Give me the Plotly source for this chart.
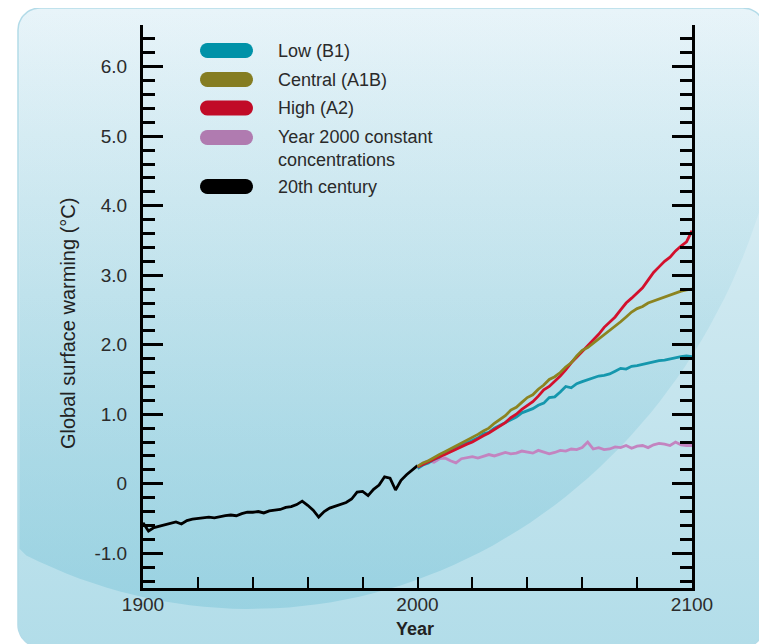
import numpy as np
import plotly.graph_objects as go

W, H = 767, 644
OFF = 8  # default page (body) margin of the html page, compensated so pixels line up

# ---------------- data ----------------
hist_years = list(range(1900, 2001, 2))
hist_20th_century = [
    -0.56, -0.68, -0.63, -0.61, -0.59, -0.57, -0.55, -0.58, -0.53, -0.51,
    -0.50, -0.49, -0.48, -0.49, -0.47, -0.46, -0.45, -0.46, -0.43, -0.41,
    -0.41, -0.40, -0.42, -0.39, -0.38, -0.37, -0.34, -0.33, -0.30, -0.25,
    -0.31, -0.38, -0.48, -0.40, -0.35, -0.32, -0.30, -0.27, -0.22, -0.12,
    -0.11, -0.17, -0.08, -0.02, 0.10, 0.08, -0.09, 0.05, 0.13, 0.20, 0.26,
]

proj_years = list(range(2000, 2101, 2))
low_b1 = [
    0.22, 0.27, 0.30, 0.35, 0.38, 0.45, 0.47, 0.52, 0.55, 0.59,
    0.62, 0.66, 0.72, 0.74, 0.80, 0.84, 0.88, 0.93, 0.96, 1.02,
    1.05, 1.08, 1.13, 1.16, 1.24, 1.25, 1.32, 1.40, 1.38, 1.44,
    1.47, 1.50, 1.53, 1.55, 1.56, 1.58, 1.62, 1.66, 1.65, 1.69,
    1.70, 1.72, 1.73, 1.75, 1.77, 1.78, 1.80, 1.82, 1.83, 1.84, 1.83,
]
central_a1b = [
    0.25, 0.30, 0.33, 0.38, 0.42, 0.46, 0.50, 0.54, 0.58, 0.62,
    0.66, 0.71, 0.76, 0.80, 0.87, 0.92, 0.98, 1.06, 1.10, 1.17,
    1.24, 1.28, 1.36, 1.42, 1.50, 1.54, 1.60, 1.68, 1.74, 1.84,
    1.92, 1.96, 2.02, 2.09, 2.14, 2.20, 2.26, 2.33, 2.40, 2.47,
    2.52, 2.55, 2.60, 2.63, 2.66, 2.69, 2.71, 2.74, 2.77, 2.79, 2.80,
]
high_a2 = [
    0.24, 0.28, 0.31, 0.36, 0.39, 0.42, 0.46, 0.50, 0.53, 0.57,
    0.60, 0.65, 0.69, 0.73, 0.78, 0.82, 0.88, 0.95, 1.00, 1.07,
    1.12, 1.18, 1.26, 1.35, 1.40, 1.47, 1.55, 1.64, 1.74, 1.82,
    1.90, 1.99, 2.06, 2.15, 2.25, 2.32, 2.40, 2.50, 2.60, 2.67,
    2.74, 2.82, 2.93, 3.04, 3.12, 3.20, 3.26, 3.35, 3.42, 3.48, 3.64,
]
constant_2000 = [
    0.25, 0.30, 0.33, 0.31, 0.36, 0.37, 0.33, 0.30, 0.36, 0.38,
    0.39, 0.37, 0.40, 0.42, 0.40, 0.42, 0.45, 0.43, 0.44, 0.47,
    0.46, 0.44, 0.48, 0.45, 0.43, 0.45, 0.48, 0.47, 0.50, 0.49,
    0.52, 0.60, 0.50, 0.52, 0.49, 0.50, 0.53, 0.52, 0.55, 0.51,
    0.54, 0.55, 0.52, 0.56, 0.58, 0.57, 0.55, 0.60, 0.56, 0.55, 0.55,
]

x_tickvals = [1900, 2000, 2100]
x_ticktext = ["1900", "2000", "2100"]
x_minor_ticks = [1920, 1940, 1960, 1980, 2020, 2040, 2060, 2080]
y_tickvals = [-1, 0, 1, 2, 3, 4, 5, 6]
y_ticktext = ["-1.0", "0", "1.0", "2.0", "3.0", "4.0", "5.0", "6.0"]

legend_labels = ["Low (B1)", "Central (A1B)", "High (A2)",
                 "Year 2000 constant<br>concentrations", "20th century"]
legend_colors = ["#0092a8", "#857d22", "#c10b27", "#b07bb0", "#000000"]

# ---------------- helpers for decoration ----------------
def rounded_rect(x0, y0, x1, y1, r, n=14):
    xs, ys = [], []
    corners = [((x0 + r, y0 + r), np.pi, 1.5 * np.pi),
               ((x1 - r, y0 + r), 1.5 * np.pi, 2 * np.pi),
               ((x1 - r, y1 - r), 0.0, 0.5 * np.pi),
               ((x0 + r, y1 - r), 0.5 * np.pi, np.pi)]
    for (cx, cy), a0, a1 in corners:
        a = np.linspace(a0, a1, n)
        xs.extend(cx + r * np.cos(a))
        ys.extend(cy + r * np.sin(a))
    xs.append(xs[0]); ys.append(ys[0])
    return xs, ys


def stadium_path(x0, x1, yc, h, n=12):
    r = h / 2.0
    pts = []
    for a in np.linspace(-np.pi / 2, np.pi / 2, n):
        pts.append((x1 - r + r * np.cos(a), yc + r * np.sin(a)))
    for a in np.linspace(np.pi / 2, 1.5 * np.pi, n):
        pts.append((x0 + r + r * np.cos(a), yc + r * np.sin(a)))
    return "M " + " L ".join(f"{x:.2f},{y:.2f}" for x, y in pts) + " Z"


fig = go.Figure()

# background panel (subplot xy, in screen-pixel coordinates, drawn first)
px, py = rounded_rect(18, 8, 765, 647, 22)
fig.add_trace(go.Scatter(
    x=px, y=py, mode="lines", fill="toself",
    line=dict(color="#b3dbe8", width=1.5),
    fillgradient=dict(type="vertical", start=8, stop=647,
                      colorscale=[[0, "#e8f4f9"], [0.45, "#cde8f0"], [1, "#b2dde9"]]),
    hoverinfo="skip", showlegend=False, xaxis="x", yaxis="y"))

t = np.linspace(0, 2 * np.pi, 240)
ex = np.clip(250 + 540 * np.cos(t), 19.5, 763.5)
ey = np.clip(14 + 595 * np.sin(t), 9.5, 645)
fig.add_trace(go.Scatter(
    x=ex, y=ey, mode="lines", fill="toself", line=dict(width=0),
    fillgradient=dict(type="vertical", start=9.5, stop=608,
                      colorscale=[[0, "rgba(120,195,215,0)"], [0.45, "rgba(120,195,215,0.15)"],
                                  [1, "rgba(120,195,215,0.45)"]]),
    hoverinfo="skip", showlegend=False, xaxis="x", yaxis="y"))

# ---------------- data traces (subplot x2y2) ----------------
fig.add_trace(go.Scatter(x=hist_years, y=hist_20th_century, mode="lines",
                         line=dict(color="#000000", width=2.8), name="20th century",
                         xaxis="x2", yaxis="y2", showlegend=False))
fig.add_trace(go.Scatter(x=proj_years, y=constant_2000, mode="lines",
                         line=dict(color="#c384c0", width=2.8),
                         name="Year 2000 constant concentrations",
                         xaxis="x2", yaxis="y2", showlegend=False))
fig.add_trace(go.Scatter(x=proj_years, y=low_b1, mode="lines",
                         line=dict(color="#1597ad", width=2.8), name="Low (B1)",
                         xaxis="x2", yaxis="y2", showlegend=False))
fig.add_trace(go.Scatter(x=proj_years, y=high_a2, mode="lines",
                         line=dict(color="#d3102c", width=2.8), name="High (A2)",
                         xaxis="x2", yaxis="y2", showlegend=False))
fig.add_trace(go.Scatter(x=proj_years, y=central_a1b, mode="lines",
                         line=dict(color="#8c8420", width=2.8), name="Central (A1B)",
                         xaxis="x2", yaxis="y2", showlegend=False))

# ---------------- manual legend ----------------
row_y = [50.5, 79.5, 108, 137.5, 186.5]
text_y = [50.5, 79.5, 108, 148, 186.5]
shapes = []
annotations = []
for lab, col, ry, ty in zip(legend_labels, legend_colors, row_y, text_y):
    shapes.append(dict(type="path", path=stadium_path(200, 253, ry, 15),
                       xref="x", yref="y", fillcolor=col, line=dict(width=0), layer="above"))
    annotations.append(dict(x=276, y=ty, xref="x", yref="y", text=lab, showarrow=False,
                            xanchor="left", yanchor="middle", align="left",
                            font=dict(family="Liberation Sans, Arial, sans-serif", size=18,
                                      color="#2a2a2a")))

annotations.append(dict(x=68, y=324, xref="x", yref="y", text="Global surface warming (°C)",
                        textangle=-90, showarrow=False, xanchor="center", yanchor="middle",
                        font=dict(family="Liberation Sans, Arial, sans-serif", size=20,
                                  color="#222222")))
annotations.append(dict(x=415, y=629, xref="x", yref="y", text="<b>Year</b>",
                        showarrow=False, xanchor="center", yanchor="middle",
                        font=dict(family="Liberation Sans, Arial, sans-serif", size=18,
                                  color="#222222")))

tickfont = dict(family="Liberation Sans, Arial, sans-serif", size=19, color="#2b2b2b")

fig.update_layout(
    width=W, height=H, autosize=False,
    margin=dict(l=0, r=0, t=0, b=0, pad=0, autoexpand=False),
    paper_bgcolor="#ffffff", plot_bgcolor="rgba(0,0,0,0)",
    showlegend=False,
    xaxis=dict(domain=[0, 1], range=[OFF, W + OFF], visible=False, fixedrange=True,
               automargin=False),
    yaxis=dict(domain=[0, 1], range=[H + OFF, OFF], visible=False, fixedrange=True,
               automargin=False),
    xaxis2=dict(domain=[(143 - OFF) / W, (692 - OFF) / W], anchor="y2", range=[1900, 2100],
                automargin=False,
                showgrid=False, zeroline=False, showline=True, linecolor="#000000",
                linewidth=3, ticks="inside", ticklen=11, tickwidth=2, tickcolor="#000000",
                tickmode="array", tickvals=x_tickvals, ticktext=x_ticktext,
                tickfont=tickfont, ticklabelstandoff=-3,
                minor=dict(tickmode="array", tickvals=x_minor_ticks, ticks="inside",
                           ticklen=11, tickwidth=2, tickcolor="#000000", showgrid=False)),
    yaxis2=dict(domain=[(H + OFF - 588) / H, (H + OFF - 25) / H], anchor="x2",
                range=[-1.5, 6.6], automargin=False,
                showgrid=False, zeroline=False, showline=True, linecolor="#000000",
                linewidth=3, mirror="ticks", ticks="inside", ticklen=20, tickwidth=2.5,
                tickcolor="#000000", tickmode="array", tickvals=y_tickvals,
                ticktext=y_ticktext, tickfont=tickfont, ticklabelstandoff=9,
                minor=dict(dtick=0.2, tick0=0, ticks="inside", ticklen=12, tickwidth=2.5,
                           tickcolor="#000000", showgrid=False)),
    shapes=shapes,
    annotations=annotations,
)

fig.write_html("out.html")
